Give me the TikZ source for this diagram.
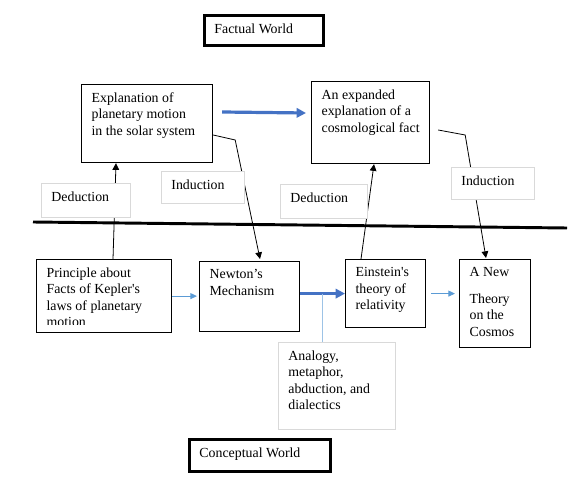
\documentclass[tikz,border=0pt]{standalone}
\usepackage{fontspec}
\setmainfont{Liberation Serif}
\usetikzlibrary{arrows.meta,calc}
\definecolor{thinblue}{HTML}{5B9BD5}
\definecolor{thickblue}{HTML}{4472C4}
\definecolor{paleblue}{HTML}{9DC3E6}
\newdimen\pxu \pxu=0.75pt
\newcommand{\bxt}[3]{\parbox[t][#2\pxu][t]{#1\pxu}{\raggedright #3}}

\begin{document}
\begin{tikzpicture}[x=0.75pt,y=-0.75pt,
  font=\fontsize{10.4}{12.4}\selectfont,
  >={Triangle[length=5pt,width=5pt]},
  box/.style={draw,line width=0.9pt,fill=white,anchor=north west,inner xsep=7.5pt,inner ysep=6pt},
  world/.style={box,line width=2.2pt},
  lbl/.style={box,draw=black!15,line width=0.6pt},
  arr/.style={->,line width=0.6pt},
  flow/.style={-{Triangle[length=5pt,width=4.5pt]},draw=thinblue,line width=0.75pt},
  bigflow/.style={-{Triangle[length=7pt,width=7pt]},draw=thickblue,line width=2.4pt}]
 \useasboundingbox (0,0) rectangle (588,477);
 \node[world] (fw) at (203,14) {\bxt{99}{14}{Factual World}}; %上
 \node[box] (b1) at (81,84) {\bxt{111}{62}{Explanation of\\ planetary motion\\ in the solar system}};
 \node[box] (b2) at (311,81) {\bxt{98}{66}{An expanded\\ explanation of a\\ cosmological~fact}};
 \node[box] (p) at (36,259) {\bxt{115}{57}{Principle about\\ Facts of Kepler\textquotesingle s\\ laws of planetary\\ motion}};
 \fill[white] ($(p.south west)+(1,-8)$) rectangle ($(p.south east)+(-1,-1)$); %切れた行
 \node[box] (n) at (199,261) {\bxt{80}{54}{Newton’s\\ Mechanism}};
 \node[box] (e) at (345,259) {\bxt{60}{52}{Einstein\textquotesingle s\\ theory of\\ relativity}};
 \node[box] (t) at (459,259) {\bxt{51}{72}{A New\\[7.5pt] Theory\\ on the\\ Cosmos}};
 \node[lbl] (a) at (278,342) {\bxt{97}{71}{Analogy,\\ metaphor,\\ abduction, and\\ dialectics}};
 \node[world] (cw) at (188,438) {\bxt{121}{16}{Conceptual World}}; %下
 \coordinate (dl) at (33,222);
 \coordinate (dr) at (567,228);
 \draw[line width=2.2pt] (dl)--(dr); %境界線
 \draw[arr] ($(p.north west)+(77,0)$)--($(b1.south west)+(35,0)$);
 \draw[arr] ($(b1.north east)+(0,51)$)--++(22,5)--($(n.north west)+(61,-2)$);
 \draw[arr] ($(e.north west)+(16,0)$)--($(b2.south west)+(63,0)$);
 \draw[arr] ($(b2.north east)+(8,49)$)--++(27,5)--($(t.north west)+(27,-1)$);
 \draw[bigflow] ($(b1.north east)+(9,28)$)--($(b2.north west)+(-5,32)$);
 \draw[flow,shorten >=1.5pt] (p.east)--(p.east -| n.west);
 \draw[bigflow] (n.east |- e.west)--(e.west);
 \coordinate (m) at ($(n.east |- e.west)!0.5!(e.west)$);
 \draw[paleblue,line width=0.75pt] (m)--(m |- a.north);
 \draw[flow,shorten <=3.75pt,shorten >=3pt] (e.east)--(e.east -| t.west);
 \node[lbl] (d1) at (41,183) {\bxt{69}{18}{Deduction}};
 \node[lbl] (i1) at (161,171) {\bxt{63}{16}{Induction}};
 \node[lbl] (d2) at (280,184) {\bxt{67}{18}{Deduction}};
 \node[lbl] (i2) at (451,167) {\bxt{63}{16}{Induction}};
\end{tikzpicture}
\end{document}
